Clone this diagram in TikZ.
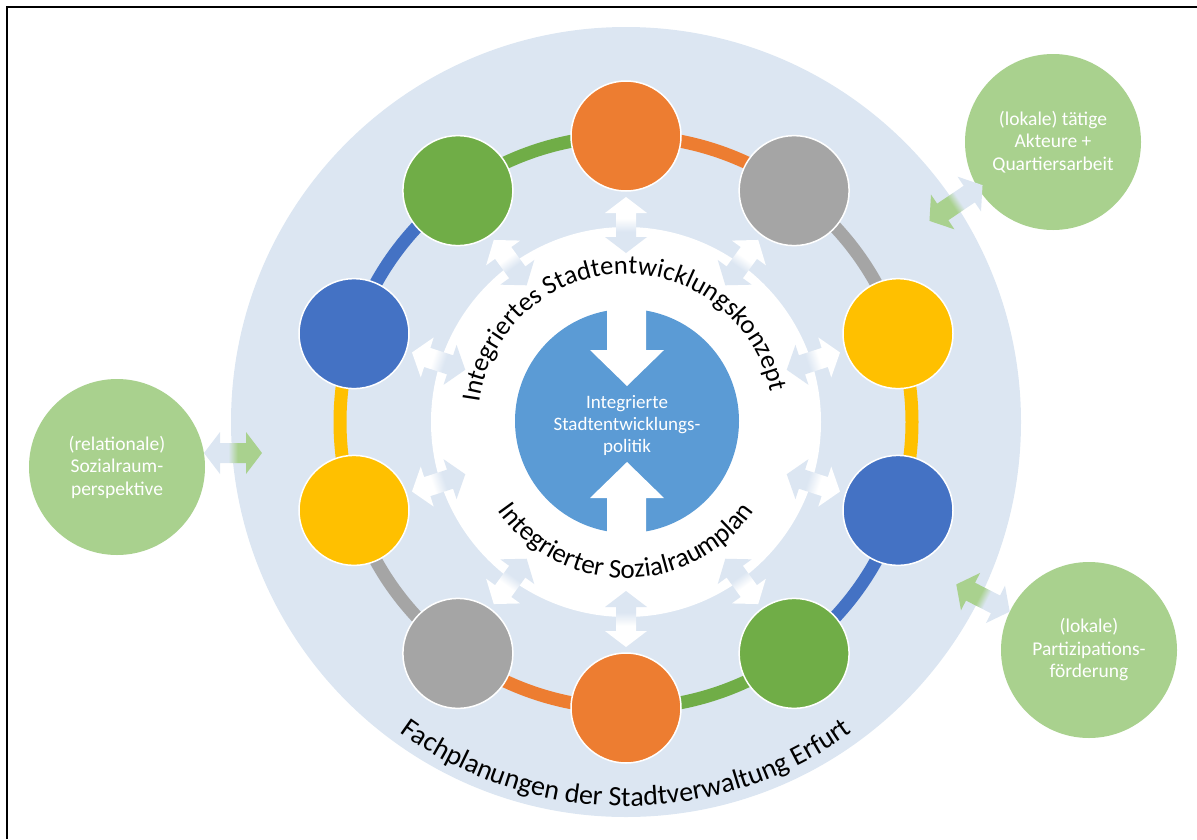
\documentclass[tikz,border=0pt]{standalone}
\usepackage{fontspec}
\setmainfont{Carlito}
\usetikzlibrary{decorations.text,calc}
\definecolor{bgblue}{HTML}{DCE6F2}
\definecolor{corange}{HTML}{ED7D31}
\definecolor{cgray}{HTML}{A5A5A5}
\definecolor{cyellow}{HTML}{FFC000}
\definecolor{cblue}{HTML}{4472C4}
\definecolor{cgreen}{HTML}{70AD47}
\definecolor{cmid}{HTML}{5B9BD5}
\definecolor{lgreen}{HTML}{A9D18E}
\pgfdeclarehorizontalshading{wbshade}{100bp}{color(0bp)=(bgblue); color(44bp)=(bgblue); color(56bp)=(white); color(100bp)=(white)}
\pgfdeclarehorizontalshading{gbshade}{100bp}{color(0bp)=(lgreen); color(46bp)=(lgreen); color(54bp)=(bgblue); color(100bp)=(bgblue)}
\newcommand\dblarr[4]{%
  \pgfmathsetmacro\dbang{-(#2)}%
  \begin{scope}[shift={#1},rotate=\dbang]
    \shade[shading=#4,shading angle=\dbang] ({-#3/2},0) -- ({-#3/2+16},21) -- ({-#3/2+16},10) -- ({#3/2-16},10) -- ({#3/2-16},21) -- ({#3/2},0) -- ({#3/2-16},-21) -- ({#3/2-16},-10) -- ({-#3/2+16},-10) -- ({-#3/2+16},-21) -- cycle;
  \end{scope}}
\tikzset{
  ringc/.style={circle,minimum size=110pt,inner sep=0pt,draw=white,line width=1.5pt},
  gcirc/.style={circle,fill=lgreen,minimum size=176pt,inner sep=0pt,text=white,align=center,font=\fontsize{19.5}{22.5}\selectfont},
  midtext/.style={text=white,align=center,font=\fontsize{19}{22}\selectfont}
}
\begin{document}
\begin{tikzpicture}[x=1pt,y=-1pt]
\useasboundingbox (0,0) rectangle (1197,839);
\coordinate (C) at (626,422);
% frame
\draw[line width=2.5pt] (7,839) -- (7,7) -- (1197,7);
% backgrounds
\fill[bgblue] (C) circle[radius=395];
\fill[white] (C) circle[radius=195];
% ring arcs
\foreach \a/\col in {-90/corange,-54/cgray,-18/cyellow,18/cblue,54/cgreen,90/corange,126/cgray,162/cyellow,198/cblue,234/cgreen}{
  \draw[line width=13pt,\col] ($(C)+(\a:286)$) arc[start angle=\a,end angle=\a+36,radius=286];
}
% ring circles
\foreach \a/\col/\n in {-90/corange/r1,-54/cgray/r2,-18/cyellow/r3,18/cblue/r4,54/cgreen/r5,90/corange/r6,126/cgray/r7,162/cyellow/r8,198/cblue/r9,234/cgreen/r10}{
  \node[ringc,fill=\col] (\n) at ($(C)+(\a:286)$) {};
}
% white double arrows
\foreach \a in {-90,-54,-18,18,54,90,126,162,198,234}{
  \dblarr{($(C)+(\a:197)$)}{\a}{56}{wbshade}
}
% central circle
\node[circle,fill=cmid,minimum size=224pt,inner sep=0pt] (mid) at (627,421) {};
\fill[white] (607,300) -- (646,300) -- (646,350) -- (664,350) -- (627,386) -- (590,350) -- (607,350) -- cycle;
\fill[white] (607,545) -- (646,545) -- (646,498) -- (664,498) -- (627,462) -- (590,498) -- (607,498) -- cycle;
\node[midtext] (midt) at (627,425) {Integrierte\\Stadtentwicklungs-\\politik};
% curved texts
\path[decorate,decoration={text along path,text align=center,text={|\fontsize{26.5}{26.5}\selectfont|Integriertes Stadtentwicklungskonzept}}]
  ($(C)+(173:148)$) arc[start angle=173,end angle=363,radius=148];
\path[decorate,decoration={text along path,text align=center,text={|\fontsize{27}{27}\selectfont|Integrierter Sozialraumplan}}]
  ($(C)+(150:156)$) arc[start angle=150,end angle=30,radius=156];
\path[decorate,decoration={text along path,text align=center,text={|\fontsize{28}{28}\selectfont|Fachplanungen der Stadtverwaltung Erfurt}}]
  ($(C)+(140:384)$) arc[start angle=140,end angle=40,radius=384];
% outer green circles
\node[gcirc] (g1) at (117,467) {(relationale)\\Sozialraum-\\perspektive};
\node[gcirc] (g2) at (1053,142) {(lokale) tätige\\Akteure +\\Quartiersarbeit};
\node[gcirc] (g3) at (1089,650) {(lokale)\\Partizipations-\\förderung};
% green arrows
\dblarr{(233,453)}{180}{58}{gbshade}
\dblarr{(956,203)}{-34}{64}{gbshade}
\dblarr{(983,598)}{27}{60}{gbshade}
\end{tikzpicture}
\end{document}
